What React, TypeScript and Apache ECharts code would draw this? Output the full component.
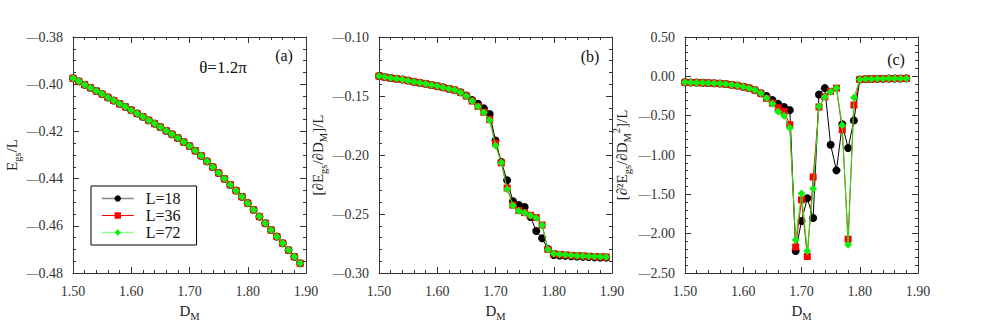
import React, { useEffect, useRef } from 'react';
import * as echarts from 'echarts';

// D_M values (x)
const dM = [
  1.50, 1.51, 1.52, 1.53, 1.54, 1.55, 1.56, 1.57, 1.58, 1.59,
  1.60, 1.61, 1.62, 1.63, 1.64, 1.65, 1.66, 1.67, 1.68, 1.69,
  1.70, 1.71, 1.72, 1.73, 1.74, 1.75, 1.76, 1.77, 1.78, 1.79,
  1.80, 1.81, 1.82, 1.83, 1.84, 1.85, 1.86, 1.87, 1.88, 1.89,
];
const dMc = [
  1.50, 1.51, 1.52, 1.53, 1.54, 1.55, 1.56, 1.57, 1.58, 1.59,
  1.60, 1.61, 1.62, 1.63, 1.64, 1.65, 1.66, 1.67, 1.68, 1.69,
  1.70, 1.71, 1.72, 1.73, 1.74, 1.75, 1.76, 1.77, 1.78, 1.79,
  1.80, 1.81, 1.82, 1.83, 1.84, 1.85, 1.86, 1.87, 1.88,
];

// (a) E_gs / L  (all three sizes coincide)
const egs = [
  -0.3975, -0.3988, -0.4002, -0.4015, -0.4029, -0.4042, -0.4056, -0.4069, -0.4083, -0.4096,
  -0.4110, -0.4124, -0.4138, -0.4153, -0.4167, -0.4182, -0.4197, -0.4212, -0.4228, -0.4245,
  -0.4262, -0.4282, -0.4303, -0.4327, -0.4351, -0.4376, -0.4401, -0.4426, -0.4451, -0.4477,
  -0.4504, -0.4532, -0.4561, -0.4589, -0.4618, -0.4646, -0.4674, -0.4703, -0.4731, -0.4759,
];

// (b) first derivative
const d1L18 = [
  -0.1331, -0.1340, -0.1348, -0.1354, -0.1360, -0.1370, -0.1380, -0.1388, -0.1396, -0.1407,
  -0.1416, -0.1427, -0.1438, -0.1450, -0.1468, -0.1497, -0.1535, -0.1566, -0.1605, -0.1653,
  -0.1877, -0.2060, -0.2214, -0.2392, -0.2424, -0.2441, -0.2525, -0.2644, -0.2706, -0.2796,
  -0.2848, -0.2852, -0.2855, -0.2858, -0.2860, -0.2862, -0.2864, -0.2866, -0.2868, -0.2870,
];
const d1L36 = [
  -0.1331, -0.1340, -0.1348, -0.1354, -0.1360, -0.1370, -0.1380, -0.1388, -0.1396, -0.1407,
  -0.1416, -0.1427, -0.1438, -0.1450, -0.1470, -0.1500, -0.1543, -0.1588, -0.1638, -0.1700,
  -0.1900, -0.2066, -0.2280, -0.2425, -0.2470, -0.2488, -0.2510, -0.2530, -0.2593, -0.2800,
  -0.2836, -0.2842, -0.2846, -0.2850, -0.2853, -0.2855, -0.2858, -0.2860, -0.2862, -0.2864,
];
const d1L72 = [
  -0.1331, -0.1340, -0.1348, -0.1354, -0.1360, -0.1370, -0.1380, -0.1388, -0.1396, -0.1407,
  -0.1416, -0.1427, -0.1438, -0.1450, -0.1470, -0.1500, -0.1543, -0.1590, -0.1640, -0.1705,
  -0.1920, -0.2066, -0.2290, -0.2429, -0.2474, -0.2490, -0.2513, -0.2533, -0.2595, -0.2800,
  -0.2836, -0.2842, -0.2846, -0.2850, -0.2853, -0.2855, -0.2858, -0.2860, -0.2862, -0.2865,
];

// (c) second derivative
const d2L18 = [
  -0.076, -0.078, -0.080, -0.082, -0.085, -0.088, -0.092, -0.098, -0.106, -0.118,
  -0.132, -0.150, -0.175, -0.215, -0.250, -0.300, -0.350, -0.390, -0.430, -2.220,
  -1.840, -1.550, -1.800, -0.230, -0.150, -0.870, -1.195, -0.610, -0.910, -0.560,
  -0.040, -0.035, -0.033, -0.031, -0.030, -0.029, -0.028, -0.027, -0.026,
];
const d2L36 = [
  -0.076, -0.078, -0.080, -0.082, -0.085, -0.088, -0.092, -0.098, -0.106, -0.118,
  -0.132, -0.150, -0.175, -0.215, -0.280, -0.340, -0.400, -0.445, -0.615, -2.170,
  -1.570, -2.290, -1.280, -0.390, -0.260, -0.190, -0.150, -0.680, -2.070, -0.365,
  -0.040, -0.035, -0.033, -0.031, -0.030, -0.029, -0.028, -0.027, -0.026,
];
const d2L72 = [
  -0.076, -0.078, -0.080, -0.082, -0.085, -0.088, -0.092, -0.098, -0.106, -0.118,
  -0.132, -0.150, -0.175, -0.215, -0.275, -0.350, -0.450, -0.500, -0.657, -2.080,
  -1.490, -2.220, -1.430, -0.385, -0.263, -0.195, -0.148, -0.623, -2.140, -0.270,
  -0.040, -0.035, -0.033, -0.031, -0.030, -0.029, -0.028, -0.027, -0.026,
];

const seriesNames = ['L=18', 'L=36', 'L=72'];
const panelTags = ['(a)', '(b)', '(c)'];
const yRanges = [
  { min: -0.48, max: -0.38, interval: 0.02, minor: 4 },
  { min: -0.30, max: -0.10, interval: 0.05, minor: 5 },
  { min: -2.5, max: 0.5, interval: 0.5, minor: 5 },
];
const annotation = 'θ=1.2π';

const FONT = "'Liberation Serif', 'Times New Roman', serif";
const TXT = '#333';

const gridLeft = [73, 379, 685];
const GRID_W = 233;
const GRID_TOP = 37;
const GRID_H = 236;

const nameRich = {
  n: { fontFamily: FONT, fontSize: 15, color: '#222', lineHeight: 22 },
  s: { fontFamily: FONT, fontSize: 10.5, color: '#222', lineHeight: 13, verticalAlign: 'bottom' },
  p: { fontFamily: FONT, fontSize: 10.5, color: '#222', lineHeight: 12, verticalAlign: 'top' },
};

const yNames = [
  '{n|E}{s|gs}{n|/L}',
  '{n|[∂E}{s|gs}{n|/∂D}{s|M}{n|]/L}',
  '{n|[∂²E}{s|gs}{n|/∂D}{s|M}{p|2}{n|]/L}',
];

function pairs(xs: number[], ys: number[]) {
  return ys.map((y, i) => [xs[i], y]);
}

function yFmt(v: number) {
  const s = Math.abs(v) < 1e-9 ? '0.00' : v.toFixed(2);
  return s.startsWith('-') ? '{m|—}{d|' + s.slice(1) + '}' : '{d|' + s + '}';
}

export default function App() {
  const ref = useRef<HTMLDivElement>(null);
  useEffect(() => {
    if (!ref.current) return;
    const chart = echarts.init(ref.current, undefined, { renderer: 'svg' });

    const grid: any[] = [];
    const xAxis: any[] = [];
    const yAxis: any[] = [];
    const axisLine = { show: true, onZero: false, lineStyle: { color: TXT, width: 1 } };
    for (let i = 0; i < 3; i++) {
      grid.push({
        left: gridLeft[i], top: GRID_TOP, width: GRID_W, height: GRID_H,
        containLabel: false, outerBoundsMode: 'none',
      });
      const xBase = {
        type: 'value', gridIndex: i, min: 1.5, max: 1.9, interval: 0.1,
        axisLine, splitLine: { show: false },
        axisTick: { show: true, inside: true, length: 6, lineStyle: { color: TXT } },
        minorTick: { show: true, splitNumber: 5, length: 3, lineStyle: { color: TXT } },
      };
      xAxis.push({
        ...xBase, position: 'bottom',
        axisLabel: {
          show: true, fontFamily: FONT, fontSize: 14, color: TXT, margin: 11,
          formatter: (v: number) => v.toFixed(2),
        },
        name: '{n|D}{s|M}', nameLocation: 'middle', nameGap: 27,
        nameTextStyle: { rich: nameRich },
      });
      xAxis.push({ ...xBase, position: 'top', axisLabel: { show: false } });
      const yr = yRanges[i];
      const yBase = {
        type: 'value', gridIndex: i, min: yr.min, max: yr.max, interval: yr.interval,
        axisLine, splitLine: { show: false },
        axisTick: { show: true, inside: true, length: 6, lineStyle: { color: TXT } },
        minorTick: { show: true, splitNumber: yr.minor, length: 3, lineStyle: { color: TXT } },
      };
      yAxis.push({
        ...yBase, position: 'left',
        axisLabel: {
          show: true, fontFamily: FONT, fontSize: 14, color: TXT, margin: 10, formatter: yFmt,
          rich: {
            m: { fontFamily: FONT, fontSize: 12, color: TXT },
            d: { fontFamily: FONT, fontSize: 14, color: TXT },
          },
        },
        name: yNames[i], nameLocation: 'middle', nameRotate: 90, nameGap: [50, 44, 52][i],
        nameTextStyle: { rich: nameRich },
      });
      yAxis.push({ ...yBase, position: 'right', axisLabel: { show: false } });
    }

    const sty = [
      { color: '#000000', symbol: 'circle', symbolSize: 8 },
      { color: '#ff0000', symbol: 'rect', symbolSize: 7 },
      { color: '#11ee11', symbol: 'diamond', symbolSize: 8 },
    ];
    const panelData = [
      [pairs(dM, egs), pairs(dM, egs), pairs(dM, egs)],
      [pairs(dM, d1L18), pairs(dM, d1L36), pairs(dM, d1L72)],
      [pairs(dMc, d2L18), pairs(dMc, d2L36), pairs(dMc, d2L72)],
    ];
    const series: any[] = [];
    for (let p = 0; p < 3; p++) {
      for (let s = 0; s < 3; s++) {
        series.push({
          type: 'line', name: seriesNames[s],
          xAxisIndex: p * 2, yAxisIndex: p * 2,
          data: panelData[p][s],
          symbol: sty[s].symbol, symbolSize: sty[s].symbolSize,
          showSymbol: true,
          itemStyle: { color: sty[s].color },
          lineStyle: { color: sty[s].color, width: 1 },
          z: 2 + s,
        });
      }
    }

    chart.setOption({
      animation: false,
      backgroundColor: '#ffffff',
      textStyle: { fontFamily: FONT },
      grid, xAxis, yAxis, series,
      legend: {
        left: 91, top: 186, orient: 'vertical',
        selectedMode: false,
        borderColor: '#000', borderWidth: 1, borderRadius: 0,
        padding: [4, 16, 4, 10],
        itemWidth: 32, itemHeight: 8, itemGap: 0,
        formatter: (n: string) => '{t|' + n + '}',
        textStyle: {
          fontFamily: FONT, fontSize: 16, color: '#111', lineHeight: 17,
          rich: { t: { fontFamily: FONT, fontSize: 16, color: '#111', lineHeight: 17, padding: [0, 0, 0, 7] } },
        },
        data: [
          { name: 'L=18', lineStyle: { color: '#888888', width: 1.5 } },
          { name: 'L=36', lineStyle: { color: '#ff0000', width: 1 } },
          { name: 'L=72', lineStyle: { color: '#88ff88', width: 1.5 } },
        ],
      },
      graphic: [
        {
          type: 'text', x: 223, y: 67,
          style: { text: annotation, fontFamily: FONT, fontSize: 17, fill: '#111', align: 'center', verticalAlign: 'middle' },
        },
        ...panelTags.map((t, i) => ({
          type: 'text', x: gridLeft[i] + GRID_W - 22, y: 56 + (i === 2 ? 3 : 0) - (i === 0 ? 1 : 0),
          style: { text: t, fontFamily: FONT, fontSize: 16, fill: '#111', align: 'center', verticalAlign: 'middle' },
        })),
      ],
    });
    return () => chart.dispose();
  }, []);
  return (
    <div
      ref={ref}
      style={{ position: 'fixed', left: 0, top: 0, width: 981, height: 326, background: '#fff' }}
    />
  );
}
